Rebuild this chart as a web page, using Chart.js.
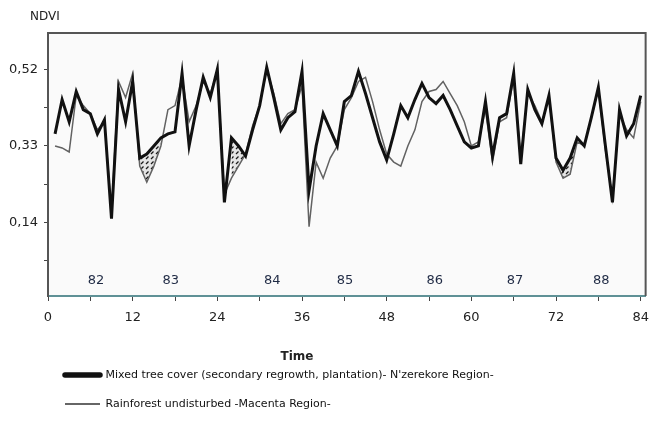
<!DOCTYPE html>
<html>
<head>
<meta charset="utf-8">
<script src="https://cdn.jsdelivr.net/npm/chart.js@4.4.1/dist/chart.umd.min.js"></script>
<style>
  html, body { margin: 0; padding: 0; background: #ffffff; }
  #wrap { width: 658px; height: 436px; position: relative; }
</style>
</head>
<body>
<div id="wrap"><canvas id="c"></canvas></div>
<script>
// ---- data ----
const months = [1,2,3,4,5,6,7,8,9,10,11,12,13,14,15,16,17,18,19,20,21,22,23,24,25,26,27,28,29,30,31,32,33,34,35,36,37,38,39,40,41,42,43,44,45,46,47,48,49,50,51,52,53,54,55,56,57,58,59,60,61,62,63,64,65,66,67,68,69,70,71,72,73,74,75,76,77,78,79,80,81,82,83,84];

const mixedTreeCover = [
  0.36, 0.445, 0.39, 0.465, 0.42, 0.41, 0.36, 0.395, 0.15, 0.47, 0.39, 0.49,
  0.30, 0.31, 0.33, 0.35, 0.36, 0.365, 0.51, 0.33, 0.42, 0.50, 0.45, 0.52,
  0.19, 0.35, 0.33, 0.305, 0.37, 0.43, 0.525, 0.45, 0.37, 0.40, 0.415, 0.515,
  0.22, 0.33, 0.41, 0.37, 0.33, 0.44, 0.455, 0.515, 0.46, 0.40, 0.34, 0.295,
  0.36, 0.43, 0.40, 0.445, 0.485, 0.45, 0.435, 0.455, 0.42, 0.38, 0.34, 0.325,
  0.33, 0.44, 0.305, 0.40, 0.41, 0.51, 0.285, 0.47, 0.42, 0.385, 0.455, 0.30,
  0.27, 0.30, 0.35, 0.33, 0.40, 0.475, 0.33, 0.19, 0.42, 0.355, 0.385, 0.455
];

const rainforest = [
  0.33, 0.325, 0.315, 0.455, 0.43, 0.41, 0.37, 0.39, 0.17, 0.49, 0.45, 0.51,
  0.28, 0.24, 0.28, 0.33, 0.42, 0.43, 0.50, 0.39, 0.43, 0.49, 0.46, 0.515,
  0.21, 0.25, 0.28, 0.31, 0.38, 0.43, 0.52, 0.46, 0.385, 0.41, 0.42, 0.48,
  0.13, 0.29, 0.25, 0.30, 0.33, 0.42, 0.45, 0.49, 0.50, 0.44, 0.37, 0.31,
  0.29, 0.28, 0.33, 0.37, 0.44, 0.465, 0.47, 0.49, 0.46, 0.43, 0.39, 0.33,
  0.34, 0.42, 0.29, 0.39, 0.40, 0.50, 0.30, 0.46, 0.43, 0.39, 0.45, 0.29,
  0.25, 0.26, 0.34, 0.33, 0.40, 0.47, 0.32, 0.20, 0.41, 0.37, 0.35, 0.44
];

// hatched (dry season) gaps: rainforest value where shaded, null elsewhere
const hatchedGap = [
  null, null, null, null, null, null, null, null, null, null, null, null,
  0.28, 0.24, 0.28, 0.33, null, null, null, null, null, null, null, null,
  null, 0.25, 0.28, 0.31, null, null, null, null, null, null, null, null,
  null, null, null, null, null, null, null, null, null, null, null, null,
  null, null, null, null, null, null, null, null, null, null, null, null,
  null, null, null, null, null, null, null, null, null, null, null, 0.29,
  0.25, 0.26, 0.34, null, null, null, null, null, null, null, null, null
];

const seriesNames = [
  "Mixed tree cover (secondary regrowth, plantation)- N'zerekore Region-",
  "Rainforest undisturbed -Macenta Region-"
];

const xTickValues = [0, 6, 12, 18, 24, 30, 36, 42, 48, 54, 60, 66, 72, 78, 84];
const yTickValues = [0.045, 0.14, 0.235, 0.33, 0.425, 0.52];
const yTickLabels = ['', '0,14', '', '0,33', '', '0,52'];

const yearLabels = ['82', '83', '84', '85', '86', '87', '88'];
const yearLabelX = [6.8, 17.4, 31.8, 42.1, 54.8, 66.2, 78.4];
const yearLabelY = -0.003;

const yAxisTitle = 'NDVI';
const xAxisTitle = 'Time';

// ---- hatch pattern ----
function makeHatch() {
  const p = document.createElement('canvas');
  p.width = 5; p.height = 5;
  const g = p.getContext('2d');
  g.fillStyle = '#e4e4e4';
  g.fillRect(0, 0, 5, 5);
  g.strokeStyle = '#1a1a1a';
  g.lineWidth = 1.2;
  g.beginPath();
  g.moveTo(1, 4); g.lineTo(3.5, 1.5);
  g.stroke();
  return g.createPattern(p, 'repeat');
}

const decor = {
  id: 'decor',
  afterLayout(chart) {
    if (chart.legend) { chart.legend.left += 47; }
  },
  beforeDraw(chart) {
    const { ctx, chartArea: a } = chart;
    ctx.save();
    ctx.fillStyle = '#fafafa';
    ctx.fillRect(a.left, a.top, a.right - a.left, a.bottom - a.top);
    ctx.restore();
  },
  afterDraw(chart) {
    const { ctx, chartArea: a, scales } = chart;
    ctx.save();
    ctx.strokeStyle = '#555555';
    ctx.lineWidth = 2;
    ctx.beginPath();
    ctx.moveTo(a.left, a.top);
    ctx.lineTo(a.right, a.top);
    ctx.lineTo(a.right, a.bottom);
    ctx.stroke();

    ctx.fillStyle = '#1f2a44';
    ctx.font = '13px "DejaVu Sans"';
    ctx.textAlign = 'center';
    ctx.textBaseline = 'middle';
    yearLabels.forEach((t, i) => {
      ctx.fillText(t, scales.x.getPixelForValue(yearLabelX[i]), scales.y.getPixelForValue(yearLabelY));
    });

    ctx.fillStyle = '#222222';
    ctx.font = '12px "DejaVu Sans"';
    ctx.textAlign = 'left';
    ctx.fillText(yAxisTitle, 30, 17);

    ctx.font = 'bold 12px "DejaVu Sans"';
    ctx.textAlign = 'center';
    ctx.fillText(xAxisTitle, 297, 357);
    ctx.restore();
  }
};

const ctx = document.getElementById('c').getContext('2d');
new Chart(ctx, {
  type: 'line',
  data: {
    labels: months,
    datasets: [
      {
        label: seriesNames[0],
        data: mixedTreeCover,
        borderColor: '#111111',
        backgroundColor: '#111111',
        borderWidth: 3,
        pointRadius: 0,
        tension: 0,
        fill: false,
        order: 1
      },
      {
        label: seriesNames[1],
        data: rainforest,
        borderColor: '#626262',
        backgroundColor: '#626262',
        borderWidth: 1.5,
        pointRadius: 0,
        tension: 0,
        fill: false,
        order: 2
      },
      {
        label: 'gap',
        data: hatchedGap,
        borderColor: 'rgba(0,0,0,0)',
        borderWidth: 0,
        backgroundColor: makeHatch(),
        pointRadius: 0,
        tension: 0,
        spanGaps: false,
        fill: '-2',
        order: 3
      }
    ]
  },
  options: {
    responsive: true,
    maintainAspectRatio: false,
    animation: false,
    layout: { padding: { top: 33, right: 5, left: 0, bottom: 16.5 } },
    plugins: {
      tooltip: { enabled: false },
      legend: {
        display: true,
        position: 'bottom',
        align: 'start',
        labels: {
          filter: (item) => item.datasetIndex < 2,
          usePointStyle: true,
          pointStyle: 'line',
          pointStyleWidth: 35,
          padding: 18,
          color: '#111111',
          font: { family: '"DejaVu Sans"', size: 11 },
          generateLabels(chart) {
            const items = Chart.defaults.plugins.legend.labels.generateLabels(chart);
            items.forEach(it => {
              if (it.datasetIndex === 0) { it.lineWidth = 5.5; it.lineCap = 'round'; it.strokeStyle = '#111111'; }
              if (it.datasetIndex === 1) { it.lineWidth = 1.5; it.strokeStyle = '#333333'; }
            });
            return items;
          }
        }
      }
    },
    scales: {
      x: {
        type: 'linear',
        min: 0,
        max: 84.7,
        afterBuildTicks(s) { s.ticks = xTickValues.map(v => ({ value: v })); },
        afterFit(s) { s.height = 55.5; },
        grid: { drawOnChartArea: false, drawTicks: true, tickLength: 5, color: '#444444' },
        border: { display: true, color: '#5f9196', width: 2 },
        ticks: {
          padding: 9,
          color: '#222222',
          font: { family: '"DejaVu Sans"', size: 13 },
          maxRotation: 0,
          autoSkip: false,
          callback: (v) => (v % 12 === 0 ? String(v) : '')
        }
      },
      y: {
        min: -0.042,
        max: 0.61,
        afterBuildTicks(s) { s.ticks = yTickValues.map(v => ({ value: v })); },
        afterFit(s) { s.width = 48; },
        grid: { drawOnChartArea: false, drawTicks: true, tickLength: 4, color: '#444444' },
        border: { display: true, color: '#555555', width: 2 },
        ticks: {
          padding: 6,
          color: '#222222',
          font: { family: '"DejaVu Sans"', size: 13 },
          autoSkip: false,
          callback: (v, i) => yTickLabels[i]
        }
      }
    }
  },
  plugins: [decor]
});
</script>
</body>
</html>
